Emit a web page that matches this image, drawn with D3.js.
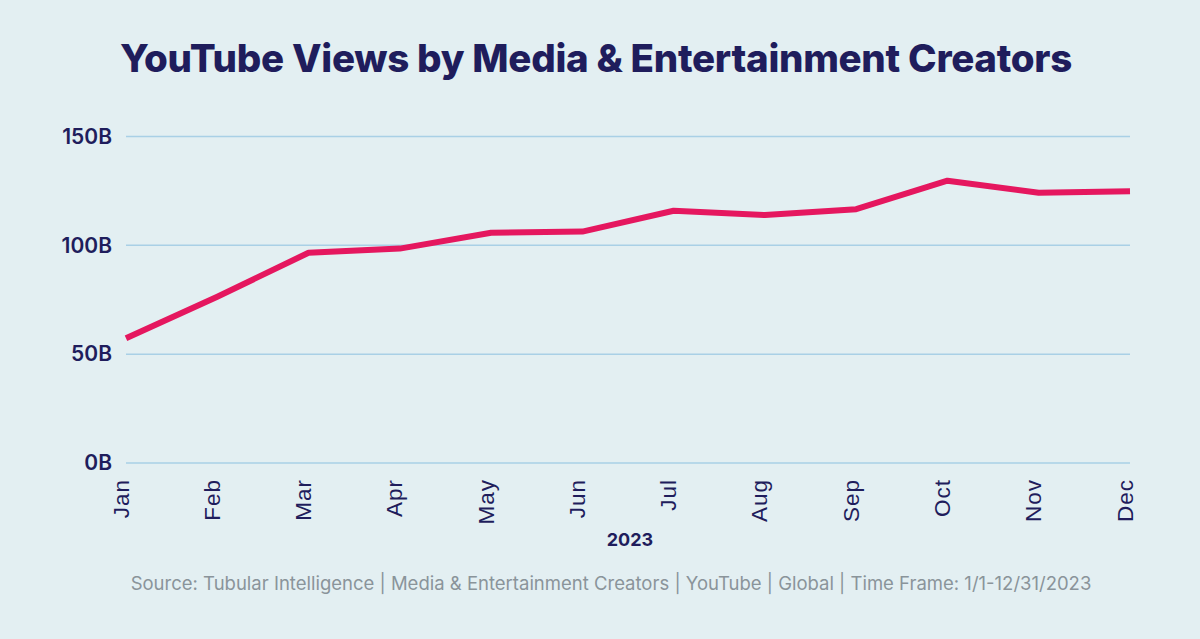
<!DOCTYPE html>
<html><head><meta charset="utf-8">
<script src="https://cdn.jsdelivr.net/npm/d3@7"></script>
<style>
html,body{margin:0;padding:0;background:#e3eff2;}
svg{display:block;}
</style></head>
<body>
<script>
const months = ["Jan","Feb","Mar","Apr","May","Jun","Jul","Aug","Sep","Oct","Nov","Dec"];
const views = [57.3, 76.4, 96.6, 98.5, 105.8, 106.3, 115.9, 113.9, 116.6, 129.7, 124.2, 124.8];
const yTicks = [0, 50, 100, 150];
const title = "YouTube Views by Media & Entertainment Creators";
const xTitle = "2023";
const source = "Source: Tubular Intelligence | Media & Entertainment Creators | YouTube | Global | Time Frame: 1/1-12/31/2023";

const W = 1200, H = 639;
const navy = "#1f1d5c";
const svg = d3.select("body").append("svg").attr("width", W).attr("height", H);
svg.append("rect").attr("width", W).attr("height", H).attr("fill", "#e3eff2");

const x = d3.scalePoint().domain(months).range([126, 1130]);
const y = d3.scaleLinear().domain([0, 150]).range([463, 136.5]);

svg.append("text").attr("x", 596).attr("y", 72).attr("text-anchor", "middle")
  .attr("font-family", "Inter, 'Liberation Sans', sans-serif").attr("font-weight", 800)
  .attr("font-size", 38.5).attr("fill", navy).attr("letter-spacing", -0.3).text(title);

// grid
svg.append("g").selectAll("line").data(yTicks).join("line")
  .attr("x1", 126).attr("x2", 1130).attr("y1", d => y(d)).attr("y2", d => y(d))
  .attr("stroke", "#a9d0e6").attr("stroke-width", 1.5);

// y axis labels
const yAxis = d3.axisLeft(y).tickValues(yTicks).tickFormat(d => d + "B").tickSize(0).tickPadding(14);
const gy = svg.append("g").attr("transform", "translate(126,0)").call(yAxis);
gy.select(".domain").remove();
gy.selectAll("text").attr("font-family", "Inter, 'Liberation Sans', sans-serif")
  .attr("font-weight", 600).attr("font-size", 21).attr("fill", navy);

// x axis labels
const xAxis = d3.axisBottom(x).tickSize(0).tickPadding(0);
const gx = svg.append("g").attr("transform", "translate(0,463)").call(xAxis);
gx.select(".domain").remove();
gx.selectAll("text").attr("font-family", "'Liberation Sans', Arial, sans-serif")
  .attr("font-weight", 400).attr("font-size", 22.5).attr("fill", navy)
  .attr("letter-spacing", 1)
  .attr("transform", "rotate(-90)").attr("text-anchor", "end")
  .attr("x", -16).attr("y", 2).attr("dy", 0);

svg.append("text").attr("x", 630).attr("y", 546).attr("text-anchor", "middle")
  .attr("font-family", "Inter, 'Liberation Sans', sans-serif").attr("font-weight", 700)
  .attr("font-size", 18).attr("fill", navy).text(xTitle);

svg.append("text").attr("x", 611).attr("y", 590).attr("text-anchor", "middle")
  .attr("font-family", "Inter, 'Liberation Sans', sans-serif").attr("font-weight", 400)
  .attr("font-size", 18.5).attr("fill", "#8a949a").text(source);

const line = d3.line().x((d, i) => x(months[i])).y(d => y(d));
svg.append("path").datum(views).attr("d", line).attr("fill", "none")
  .attr("stroke", "#e5175f").attr("stroke-width", 6).attr("stroke-linejoin", "round");
</script>
</body></html>
